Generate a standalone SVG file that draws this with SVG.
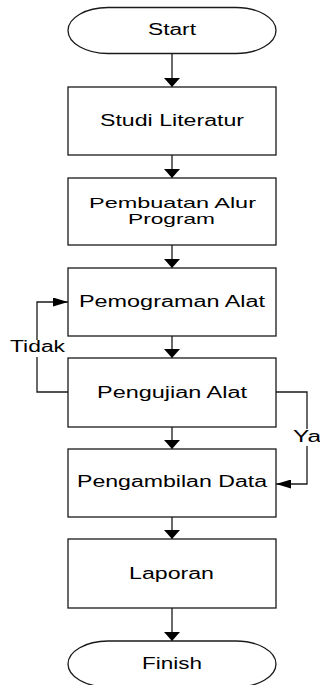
<svg xmlns="http://www.w3.org/2000/svg" width="320" height="685" viewBox="0 0 320 685">
<style>
.box{fill:#fff;stroke:#1a1a1a;stroke-width:1.3}
.ln{fill:none;stroke:#1a1a1a;stroke-width:1.3}
text{font-family:"Liberation Sans",Arial,sans-serif;font-size:16px;fill:#000}
text.two{font-size:14.5px}
</style>
<defs>
<marker id="aV" markerUnits="userSpaceOnUse" viewBox="0 0 9 16" markerWidth="9" markerHeight="16" refX="9" refY="8" orient="auto"><path d="M0,0 L9,8 L0,16 z" fill="#000"/></marker>
<marker id="aH" markerUnits="userSpaceOnUse" viewBox="0 0 15 9" markerWidth="15" markerHeight="9" refX="15" refY="4.5" orient="auto"><path d="M0,0 L15,4.5 L0,9 z" fill="#000"/></marker>
</defs>
<rect width="320" height="685" fill="#fff"/>
<g id="connectors">
<path class="ln" d="M172,53.5 V87" marker-end="url(#aV)"/>
<path class="ln" d="M172,155 V178" marker-end="url(#aV)"/>
<path class="ln" d="M172,245 V268" marker-end="url(#aV)"/>
<path class="ln" d="M172,336 V358" marker-end="url(#aV)"/>
<path class="ln" d="M172,427 V449" marker-end="url(#aV)"/>
<path class="ln" d="M172,517 V539" marker-end="url(#aV)"/>
<path class="ln" d="M172,608 V641" marker-end="url(#aV)"/>
<path class="ln" d="M68,392 H37 V357"/>
<path class="ln" d="M37,340 V302 H68" marker-end="url(#aH)"/>
<path class="ln" d="M276,392 H307 V429"/>
<path class="ln" d="M307,446 V484 H276" marker-end="url(#aH)"/>
<text x="10" y="351.5" textLength="55" lengthAdjust="spacingAndGlyphs">Tidak</text>
<text x="293" y="442" textLength="28" lengthAdjust="spacingAndGlyphs">Ya</text>
</g>
<g id="start">
<rect class="box" x="68" y="7.5" width="208" height="46" rx="40" ry="23"/>
<text x="148" y="35" textLength="48" lengthAdjust="spacingAndGlyphs">Start</text>
</g>
<g id="studi">
<rect class="box" x="68" y="87" width="208" height="68"/>
<text x="100" y="126" textLength="144" lengthAdjust="spacingAndGlyphs">Studi Literatur</text>
</g>
<g id="alur">
<rect class="box" x="68" y="178" width="208" height="67"/>
<text class="two" x="89" y="207.5" textLength="167" lengthAdjust="spacingAndGlyphs">Pembuatan Alur</text>
<text class="two" x="128" y="224" textLength="87" lengthAdjust="spacingAndGlyphs">Program</text>
</g>
<g id="pemograman">
<rect class="box" x="68" y="268" width="208" height="68"/>
<text x="79" y="307" textLength="186" lengthAdjust="spacingAndGlyphs">Pemograman Alat</text>
</g>
<g id="pengujian">
<rect class="box" x="68" y="358" width="208" height="69"/>
<text x="97" y="397.5" textLength="150" lengthAdjust="spacingAndGlyphs">Pengujian Alat</text>
</g>
<g id="pengambilan">
<rect class="box" x="68" y="449" width="208" height="68"/>
<text x="77" y="487" textLength="190" lengthAdjust="spacingAndGlyphs">Pengambilan Data</text>
</g>
<g id="laporan">
<rect class="box" x="68" y="539" width="208" height="69"/>
<text x="129" y="578.5" textLength="85" lengthAdjust="spacingAndGlyphs">Laporan</text>
</g>
<g id="finish">
<rect class="box" x="68" y="641" width="208" height="46" rx="40" ry="23"/>
<text x="142" y="668.5" textLength="60" lengthAdjust="spacingAndGlyphs">Finish</text>
</g>
</svg>
